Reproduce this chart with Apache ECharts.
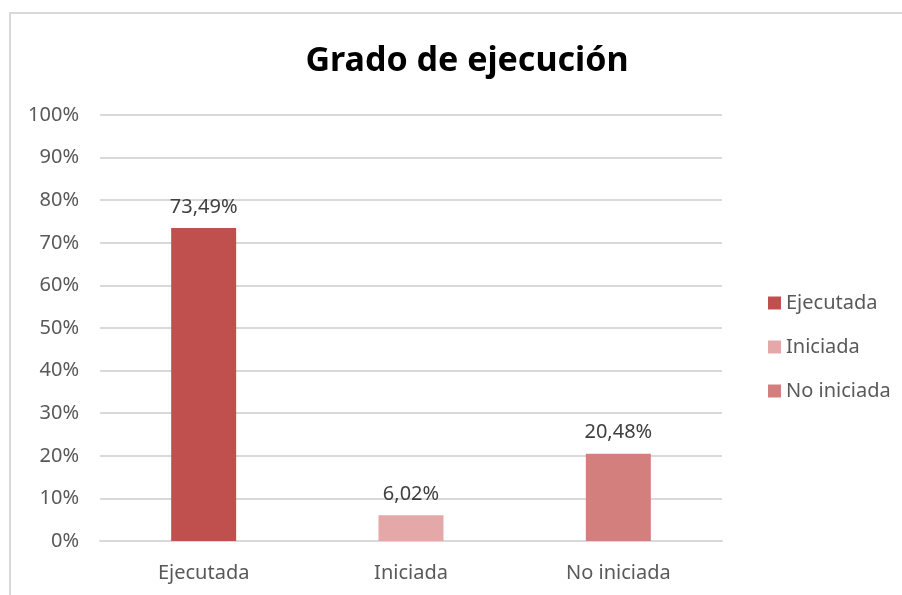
<!DOCTYPE html>
<html>
<head>
<meta charset="utf-8">
<script src="https://cdn.jsdelivr.net/npm/echarts@6/dist/echarts.min.js"></script>
<style>
  html, body { margin: 0; padding: 0; background: #fff; }
  #main { width: 902px; height: 595px; }
</style>
</head>
<body>
<div id="main"></div>
<script>
// datos del gráfico
var categorias = ['Ejecutada', 'Iniciada', 'No iniciada'];
var valores = [73.49, 6.02, 20.48];
var colores = ['#C0504D', '#E3A8A7', '#D37F7E'];
var ticksY = [0, 10, 20, 30, 40, 50, 60, 70, 80, 90, 100];

var myChart = echarts.init(document.getElementById('main'));

var series = [];
for (var i = 0; i < categorias.length; i++) {
    var d = [];
    for (var j = 0; j < categorias.length; j++) {
        d.push(i === j ? valores[i] : '-');
    }
    series.push({
        name: categorias[i],
        type: 'bar',
        stack: 'total',
        barWidth: 65,
        data: d,
        itemStyle: { color: colores[i] },
        label: {
            show: true,
            position: 'top',
            distance: 11,
            color: '#404040',
            fontFamily: 'Noto Sans',
            fontSize: 20,
            formatter: function (p) {
                return p.value.toFixed(2).replace('.', ',') + '%';
            }
        }
    });
}

option = {
    animation: false,
    title: {
        text: 'Grado de ejecución',
        left: 462,
        textAlign: 'center',
        top: 39,
        textStyle: {
            fontFamily: 'Noto Sans',
            fontWeight: 'bold',
            fontSize: 34,
            color: '#000'
        }
    },
    legend: {
        data: categorias,
        orient: 'vertical',
        left: 763,
        top: 288,
        itemWidth: 13,
        itemHeight: 13,
        itemGap: 24,
        icon: 'rect',
        textStyle: {
            fontFamily: 'Noto Sans',
            fontSize: 20,
            color: '#595959'
        }
    },
    grid: {
        left: 100,
        right: 180,
        top: 115,
        bottom: 54
    },
    xAxis: {
        type: 'category',
        data: categorias,
        axisTick: { show: false },
        axisLine: { lineStyle: { color: '#d9d9d9', width: 2 } },
        axisLabel: {
            margin: 22,
            fontFamily: 'Noto Sans',
            fontSize: 20,
            color: '#595959'
        }
    },
    yAxis: {
        type: 'value',
        min: ticksY[0],
        max: ticksY[ticksY.length - 1],
        interval: 10,
        axisLine: { show: false },
        axisTick: { show: false },
        splitLine: { lineStyle: { color: '#d9d9d9', width: 2 } },
        axisLabel: {
            margin: 21,
            fontFamily: 'Noto Sans',
            fontSize: 20,
            color: '#595959',
            formatter: '{value}%'
        }
    },
    graphic: [{
        type: 'rect',
        shape: { x: 10, y: 13, width: 1000, height: 1000 },
        style: { fill: 'none', stroke: '#d9d9d9', lineWidth: 2 },
        silent: true
    }],
    series: series
};

if (option && typeof option === "object") {
    myChart.setOption(option, true);
}
</script>
</body>
</html>
